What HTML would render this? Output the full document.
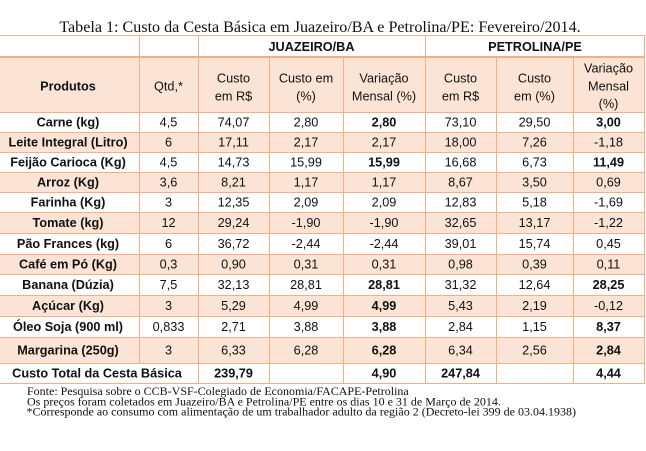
<!DOCTYPE html>
<html>
<head>
<meta charset="utf-8">
<style>
html,body{margin:0;padding:0;background:#fff;}
body{width:646px;height:451px;overflow:hidden;}
svg{display:block;}
.t{font-family:"Liberation Sans",Arial,sans-serif;font-size:12.7px;fill:#111;text-anchor:middle;}
.b{font-weight:bold;}
.s{font-family:"Liberation Serif","Times New Roman",serif;fill:#111;}
</style>
</head>
<body>
<svg width="646" height="451" viewBox="0 0 646 451" xmlns="http://www.w3.org/2000/svg">
<!-- title -->
<text class="s" x="320" y="32" font-size="16.1" text-anchor="middle">Tabela 1: Custo da Cesta Básica em Juazeiro/BA e Petrolina/PE: Fevereiro/2014.</text>

<!-- backgrounds -->
<g fill="#FBE4D5">
<rect x="0" y="57" width="644" height="55"/>
<rect x="0" y="132" width="644" height="20"/>
<rect x="0" y="172" width="644" height="20"/>
<rect x="0" y="212" width="644" height="21"/>
<rect x="0" y="254" width="644" height="20"/>
<rect x="0" y="295" width="644" height="21"/>
<rect x="0" y="337" width="644" height="26"/>
</g>

<!-- grid lines -->
<g stroke="#F4B083" stroke-width="1" fill="none">
<line x1="0" y1="35.5" x2="645" y2="35.5"/>
<line x1="0" y1="57" x2="645" y2="57" stroke-width="2"/>
<line x1="0" y1="112.5" x2="645" y2="112.5"/>
<line x1="0" y1="132.5" x2="645" y2="132.5"/>
<line x1="0" y1="152.5" x2="645" y2="152.5"/>
<line x1="0" y1="172.5" x2="645" y2="172.5"/>
<line x1="0" y1="192.5" x2="645" y2="192.5"/>
<line x1="0" y1="212.5" x2="645" y2="212.5"/>
<line x1="0" y1="233.5" x2="645" y2="233.5"/>
<line x1="0" y1="254.5" x2="645" y2="254.5"/>
<line x1="0" y1="274.5" x2="645" y2="274.5"/>
<line x1="0" y1="295.5" x2="645" y2="295.5"/>
<line x1="0" y1="316.5" x2="645" y2="316.5"/>
<line x1="0" y1="337.5" x2="645" y2="337.5"/>
<line x1="0" y1="363.5" x2="645" y2="363.5"/>
<line x1="0" y1="383.5" x2="645" y2="383.5"/>

<line x1="139.5" y1="35" x2="139.5" y2="363"/>
<line x1="198.5" y1="35" x2="198.5" y2="384"/>
<line x1="269.5" y1="57" x2="269.5" y2="384"/>
<line x1="343.5" y1="57" x2="343.5" y2="384"/>
<line x1="425.5" y1="35" x2="425.5" y2="384"/>
<line x1="496.5" y1="57" x2="496.5" y2="384"/>
<line x1="573.5" y1="57" x2="573.5" y2="384"/>
<line x1="644.5" y1="35" x2="644.5" y2="384"/>
</g>

<!-- header row 1 -->
<text class="t b" x="311.5" y="50.8">JUAZEIRO/BA</text>
<text class="t b" x="535" y="50.8">PETROLINA/PE</text>

<!-- header row 2 -->
<text class="t b" x="68" y="90.5">Produtos</text>
<text class="t" x="168.5" y="90.5">Qtd,*</text>
<text class="t" x="233.5" y="82.5">Custo</text>
<text class="t" x="233.5" y="100.3">em R$</text>
<text class="t" x="306" y="82.5">Custo em</text>
<text class="t" x="306" y="100.3">(%)</text>
<text class="t" x="384" y="82.5">Variação</text>
<text class="t" x="384" y="100.3">Mensal (%)</text>
<text class="t" x="460.5" y="82.5">Custo</text>
<text class="t" x="460.5" y="100.3">em R$</text>
<text class="t" x="534.5" y="82.5">Custo</text>
<text class="t" x="534.5" y="100.3">em (%)</text>
<text class="t" x="608.5" y="72.7">Variação</text>
<text class="t" x="608.5" y="90.5">Mensal</text>
<text class="t" x="608.5" y="108">(%)</text>

<!-- data rows -->
<g>
<text class="t b" x="68" y="126.7">Carne (kg)</text>
<text class="t" x="168.5" y="126.7">4,5</text>
<text class="t" x="233.5" y="126.7">74,07</text>
<text class="t" x="306" y="126.7">2,80</text>
<text class="t b" x="384" y="126.7">2,80</text>
<text class="t" x="460.5" y="126.7">73,10</text>
<text class="t" x="534.5" y="126.7">29,50</text>
<text class="t b" x="608.5" y="126.7">3,00</text>

<text class="t b" x="68" y="146.7">Leite Integral (Litro)</text>
<text class="t" x="168.5" y="146.7">6</text>
<text class="t" x="233.5" y="146.7">17,11</text>
<text class="t" x="306" y="146.7">2,17</text>
<text class="t" x="384" y="146.7">2,17</text>
<text class="t" x="460.5" y="146.7">18,00</text>
<text class="t" x="534.5" y="146.7">7,26</text>
<text class="t" x="608.5" y="146.7">-1,18</text>

<text class="t b" x="68" y="166.7">Feijão Carioca (Kg)</text>
<text class="t" x="168.5" y="166.7">4,5</text>
<text class="t" x="233.5" y="166.7">14,73</text>
<text class="t" x="306" y="166.7">15,99</text>
<text class="t b" x="384" y="166.7">15,99</text>
<text class="t" x="460.5" y="166.7">16,68</text>
<text class="t" x="534.5" y="166.7">6,73</text>
<text class="t b" x="608.5" y="166.7">11,49</text>

<text class="t b" x="68" y="186.7">Arroz (Kg)</text>
<text class="t" x="168.5" y="186.7">3,6</text>
<text class="t" x="233.5" y="186.7">8,21</text>
<text class="t" x="306" y="186.7">1,17</text>
<text class="t" x="384" y="186.7">1,17</text>
<text class="t" x="460.5" y="186.7">8,67</text>
<text class="t" x="534.5" y="186.7">3,50</text>
<text class="t" x="608.5" y="186.7">0,69</text>

<text class="t b" x="68" y="206.7">Farinha (Kg)</text>
<text class="t" x="168.5" y="206.7">3</text>
<text class="t" x="233.5" y="206.7">12,35</text>
<text class="t" x="306" y="206.7">2,09</text>
<text class="t" x="384" y="206.7">2,09</text>
<text class="t" x="460.5" y="206.7">12,83</text>
<text class="t" x="534.5" y="206.7">5,18</text>
<text class="t" x="608.5" y="206.7">-1,69</text>

<text class="t b" x="68" y="227.2">Tomate (kg)</text>
<text class="t" x="168.5" y="227.2">12</text>
<text class="t" x="233.5" y="227.2">29,24</text>
<text class="t" x="306" y="227.2">-1,90</text>
<text class="t" x="384" y="227.2">-1,90</text>
<text class="t" x="460.5" y="227.2">32,65</text>
<text class="t" x="534.5" y="227.2">13,17</text>
<text class="t" x="608.5" y="227.2">-1,22</text>

<text class="t b" x="68" y="248.2">Pão Frances (kg)</text>
<text class="t" x="168.5" y="248.2">6</text>
<text class="t" x="233.5" y="248.2">36,72</text>
<text class="t" x="306" y="248.2">-2,44</text>
<text class="t" x="384" y="248.2">-2,44</text>
<text class="t" x="460.5" y="248.2">39,01</text>
<text class="t" x="534.5" y="248.2">15,74</text>
<text class="t" x="608.5" y="248.2">0,45</text>

<text class="t b" x="68" y="268.7">Café em Pó (Kg)</text>
<text class="t" x="168.5" y="268.7">0,3</text>
<text class="t" x="233.5" y="268.7">0,90</text>
<text class="t" x="306" y="268.7">0,31</text>
<text class="t" x="384" y="268.7">0,31</text>
<text class="t" x="460.5" y="268.7">0,98</text>
<text class="t" x="534.5" y="268.7">0,39</text>
<text class="t" x="608.5" y="268.7">0,11</text>

<text class="t b" x="68" y="289.2">Banana (Dúzia)</text>
<text class="t" x="168.5" y="289.2">7,5</text>
<text class="t" x="233.5" y="289.2">32,13</text>
<text class="t" x="306" y="289.2">28,81</text>
<text class="t b" x="384" y="289.2">28,81</text>
<text class="t" x="460.5" y="289.2">31,32</text>
<text class="t" x="534.5" y="289.2">12,64</text>
<text class="t b" x="608.5" y="289.2">28,25</text>

<text class="t b" x="68" y="310.2">Açúcar (Kg)</text>
<text class="t" x="168.5" y="310.2">3</text>
<text class="t" x="233.5" y="310.2">5,29</text>
<text class="t" x="306" y="310.2">4,99</text>
<text class="t b" x="384" y="310.2">4,99</text>
<text class="t" x="460.5" y="310.2">5,43</text>
<text class="t" x="534.5" y="310.2">2,19</text>
<text class="t" x="608.5" y="310.2">-0,12</text>

<text class="t b" x="68" y="331.2">Óleo Soja (900 ml)</text>
<text class="t" x="168.5" y="331.2">0,833</text>
<text class="t" x="233.5" y="331.2">2,71</text>
<text class="t" x="306" y="331.2">3,88</text>
<text class="t b" x="384" y="331.2">3,88</text>
<text class="t" x="460.5" y="331.2">2,84</text>
<text class="t" x="534.5" y="331.2">1,15</text>
<text class="t b" x="608.5" y="331.2">8,37</text>

<text class="t b" x="68" y="354.4">Margarina (250g)</text>
<text class="t" x="168.5" y="354.4">3</text>
<text class="t" x="233.5" y="354.4">6,33</text>
<text class="t" x="306" y="354.4">6,28</text>
<text class="t b" x="384" y="354.4">6,28</text>
<text class="t" x="460.5" y="354.4">6,34</text>
<text class="t" x="534.5" y="354.4">2,56</text>
<text class="t b" x="608.5" y="354.4">2,84</text>

<text class="t b" x="97" y="377.7">Custo Total da Cesta Básica</text>
<text class="t b" x="233.5" y="377.7">239,79</text>
<text class="t b" x="384" y="377.7">4,90</text>
<text class="t b" x="460.5" y="377.7">247,84</text>
<text class="t b" x="608.5" y="377.7">4,44</text>
</g>

<!-- footnotes -->
<text class="s" x="27" y="395" font-size="12">Fonte: Pesquisa sobre o CCB-VSF-Colegiado de Economia/FACAPE-Petrolina</text>
<text class="s" x="27" y="405.5" font-size="12">Os preços foram coletados em Juazeiro/BA e Petrolina/PE entre os dias 10 e 31 de Março de 2014.</text>
<text class="s" x="26.5" y="415.5" font-size="12">*Corresponde ao consumo com alimentação de um trabalhador adulto da região 2 (Decreto-lei 399 de 03.04.1938)</text>
</svg>
</body>
</html>
